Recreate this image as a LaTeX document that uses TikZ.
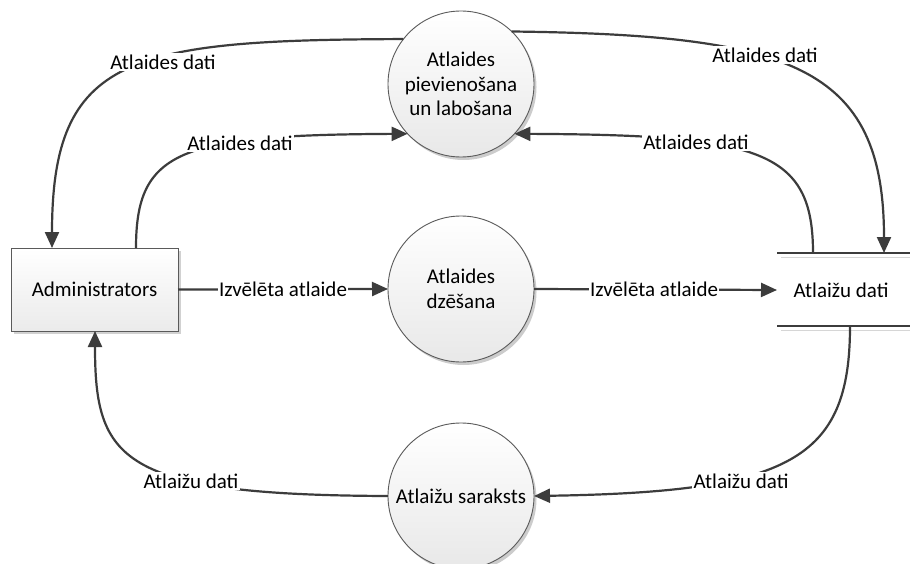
\documentclass[tikz,border=0pt]{standalone}
\usepackage{fontspec}
\setmainfont{Carlito}
\usetikzlibrary{arrows.meta,shadows,calc}
\definecolor{lineC}{HTML}{3C3C3C}
\definecolor{edgeC}{HTML}{5A5A5A}
\tikzset{
  proc/.style={circle, draw=edgeC, line width=0.9pt, minimum size=146pt, inner sep=0pt, outer sep=0pt,
    top color=white, bottom color=black!9, align=center,
    drop shadow={shadow xshift=2.5pt, shadow yshift=-3pt, opacity=0.2, fill=black}},
  entity/.style={rectangle, draw=edgeC, line width=0.9pt, minimum width=167pt, minimum height=83pt, outer sep=0pt,
    top color=white, bottom color=black!8,
    drop shadow={shadow xshift=2.5pt, shadow yshift=-2.5pt, opacity=0.18, fill=black}},
  storebox/.style={rectangle, minimum width=133pt, minimum height=73pt, inner sep=0pt, outer sep=0pt},
  flow/.style={draw=lineC, line width=2.2pt},
  flowarr/.style={flow, -{Triangle[length=16pt, width=14pt]}},
  lbl/.style={fill=white, inner sep=1.5pt},
}
\begin{document}
\begin{tikzpicture}[x=1pt,y=-1pt, font=\fontsize{21}{24.5}\selectfont]
\path[use as bounding box, clip] (0,0) rectangle (910,564);
\fill[white] (0,0) rectangle (910,564);

% nodes
\node[entity] (admin) at (94.5,289.5) {Administrators};
\node[proc] (c1) at (461,84) {Atlaides\\pievienošana\\un labošana};
\node[proc] (c2) at (461,289) {Atlaides\\dzēšana};
\node[proc] (c3) at (461,496) {Atlaižu saraksts};
\node[storebox] (store) at (843.5,289.5) {};
\node at (841,290) {Atlaižu dati};
\draw[edgeC!25, line width=1pt] ([xshift=4pt,yshift=-4pt]store.north west) -- ([yshift=-4pt]store.north east);
\draw[edgeC!25, line width=1pt] ([xshift=4pt,yshift=-4pt]store.south west) -- ([yshift=-4pt]store.south east);
\draw[lineC, line width=1.2pt] (store.north west) -- (store.north east);
\draw[lineC, line width=1.2pt] (store.south west) -- (store.south east);

% connectors
\draw[flowarr] (c1.142) .. controls (130,40) and (52,55) .. ([xshift=41pt]admin.north west);
\draw[flowarr] ([xshift=125pt]admin.north west) .. controls (136,150) and (180,135) .. (c1.223);
\draw[flowarr] (c1.46) .. controls (790,35) and (884,65) .. ([xshift=107pt]store.north west);
\draw[flowarr] ([xshift=36pt]store.north west) .. controls (813,150) and (760,135) .. (c1.317);
\draw[flowarr] (admin.east) -- (c2.west);
\draw[flowarr] (c2.east) -- ([yshift=-0.5pt]store.west);
\draw[flowarr] ([xshift=73pt]store.south west) .. controls (850,460) and (790,492) .. (c3.east);
\draw[flowarr] (c3.west) .. controls (120,495) and (95,460) .. ([xshift=84pt]admin.south west);

% labels
\node[lbl] (l1) at (163,62) {Atlaides dati};
\node[lbl] (l2) at (240,143) {Atlaides dati};
\node[lbl] (l3) at (765,55) {Atlaides dati};
\node[lbl] (l4) at (696,142) {Atlaides dati};
\node[lbl] (l5) at (283,289) {Izvēlēta atlaide};
\node[lbl] (l6) at (654,289) {Izvēlēta atlaide};
\node[lbl] (l7) at (741,481) {Atlaižu dati};
\node[lbl] (l8) at (191,481) {Atlaižu dati};
\end{tikzpicture}
\end{document}
